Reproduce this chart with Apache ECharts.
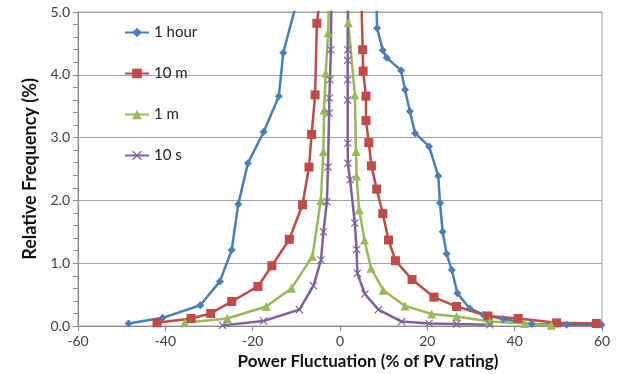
<!DOCTYPE html>
<html lang="en">
<head>
    <meta charset="UTF-8">
    <title>Power fluctuation</title>
    <script src="https://cdn.jsdelivr.net/npm/echarts@6/dist/echarts.min.js"></script>
    <style type="text/css">
        body { margin: 0; background: #fff; }
        #main { width: 625px; height: 374px; }
    </style>
</head>
<body>
<div id="main"></div>
<script>
    // [power fluctuation %, relative frequency %]
    var hour1 = [
        [-48.4, 0.04], [-40.6, 0.13], [-32.0, 0.33], [-27.5, 0.71], [-24.8, 1.21],
        [-23.3, 1.94], [-21.1, 2.59], [-17.5, 3.09], [-14.0, 3.66], [-13.0, 4.35],
        [-8.6, 5.5],
        [8.2, 5.5], [8.5, 4.74], [9.8, 4.39], [10.7, 4.27], [14.0, 4.07],
        [14.9, 3.76], [16.0, 3.42], [17.2, 3.07], [20.4, 2.86], [22.5, 2.39],
        [22.9, 1.96], [23.5, 1.50], [24.4, 1.15], [25.6, 0.89], [26.9, 0.52],
        [29.7, 0.28], [32.8, 0.18], [37.4, 0.11], [43.9, 0.03], [51.9, 0.02], [59.9, 0.02]
    ];
    var min10 = [
        [-41.9, 0.05], [-34.1, 0.12], [-29.6, 0.20], [-24.8, 0.39], [-18.8, 0.63],
        [-15.6, 0.96], [-11.6, 1.38], [-8.6, 1.93], [-7.1, 2.53], [-6.5, 3.05],
        [-5.7, 3.68], [-5.3, 4.82], [-4.05, 5.5],
        [4.76, 5.5], [5.2, 4.40], [5.3, 4.06], [5.95, 3.66], [5.95, 3.27],
        [6.6, 2.92], [7.2, 2.55], [8.4, 2.18], [9.8, 1.79], [11.1, 1.37],
        [12.7, 1.04], [16.5, 0.74], [21.5, 0.46], [26.7, 0.31], [33.9, 0.16],
        [40.8, 0.12], [49.6, 0.05], [58.7, 0.04]
    ];
    var min1 = [
        [-35.6, 0.05], [-25.8, 0.12], [-16.9, 0.31], [-11.1, 0.60], [-6.3, 1.11],
        [-4.4, 2.00], [-3.8, 2.78], [-3.66, 3.44], [-3.27, 4.03], [-2.7, 4.67],
        [-2.45, 5.5],
        [1.7, 5.5], [1.9, 4.83], [3.4, 3.68], [3.66, 2.78], [3.8, 2.39],
        [4.4, 1.85], [5.6, 1.37], [7.1, 0.92], [9.9, 0.57], [14.9, 0.32],
        [21.0, 0.19], [26.7, 0.15], [34.3, 0.07], [42.3, 0.04], [48.4, 0.01]
    ];
    var sec10 = [
        [-26.9, 0.01], [-17.5, 0.08], [-9.3, 0.26], [-6.1, 0.64], [-4.35, 1.05],
        [-3.8, 1.50], [-3.0, 1.98], [-2.75, 2.53], [-2.5, 3.39], [-2.45, 3.63],
        [-2.3, 3.92], [-2.1, 4.40], [-1.9, 5.5],
        [1.83, 5.5], [1.76, 4.40], [1.76, 4.23], [1.76, 3.92], [1.76, 3.60],
        [1.76, 2.91], [1.8, 2.59], [2.3, 2.33], [3.4, 1.64], [3.8, 1.22],
        [3.97, 0.84], [5.7, 0.51], [8.8, 0.26], [14.1, 0.07], [20.4, 0.04],
        [26.7, 0.03], [34.3, 0.02]
    ];
    var seriesNames = ['1 hour', '10 m', '1 m', '10 s'];
    var xTicks = [-60, -40, -20, 0, 20, 40, 60];

    var crossPath = 'path://M0,1L1,0L5,4L9,0L10,1L6,5L10,9L9,10L5,6L1,10L0,9L4,5Z';
    var colors = ['#4a7ebb', '#be4b48', '#98b954', '#7d60a0'];
    var symbols = ['diamond', 'rect', 'triangle', crossPath];
    var sizes = [8, 9, 9, 8];
    var datasets = [hour1, min10, min1, sec10];
    var font = 'Lato, "Liberation Sans", sans-serif';

    var series = seriesNames.map(function (name, i) {
        return {
            name: name,
            type: 'line',
            data: datasets[i],
            symbol: symbols[i],
            symbolSize: sizes[i],
            showAllSymbol: true,
            clip: true,
            lineStyle: { color: colors[i], width: 2.5 },
            itemStyle: { color: colors[i] }
        };
    });

    var option = {
        backgroundColor: '#fff',
        animation: false,
        textStyle: { fontFamily: font },
        grid: {
            left: 78, right: 23, top: 12, bottom: 48,
            outerBoundsMode: 'none',
            show: true, borderColor: '#a0a0a0', borderWidth: 1
        },
        legend: {
            orient: 'vertical',
            left: 119, top: 20,
            itemWidth: 24, itemHeight: 12,
            itemGap: 26,
            textStyle: { fontSize: 15, color: '#222', fontFamily: font },
            data: seriesNames
        },
        xAxis: {
            type: 'value',
            min: xTicks[0], max: xTicks[xTicks.length - 1], interval: 20,
            name: 'Power Fluctuation (% of PV rating)',
            nameLocation: 'middle', nameGap: 27,
            nameTextStyle: {
                fontSize: 17, fontWeight: 'bold', color: '#111', fontFamily: font,
                padding: [0, 0, 0, 56]
            },
            axisLine: { lineStyle: { color: '#888' } },
            axisTick: { show: true, length: 5, lineStyle: { color: '#888' } },
            axisLabel: { fontSize: 14, color: '#404040', margin: 8 },
            splitLine: { show: false }
        },
        yAxis: {
            type: 'value',
            min: 0, max: 5, interval: 1,
            name: 'Relative Frequency (%)',
            nameLocation: 'middle', nameGap: 39,
            nameTextStyle: { fontSize: 18, fontWeight: 'bold', color: '#111', fontFamily: font },
            axisLine: { show: true, onZero: false, lineStyle: { color: '#888' } },
            axisTick: { show: true, length: 5, lineStyle: { color: '#888' } },
            minorTick: { show: true, splitNumber: 5, length: 5, lineStyle: { color: '#888' } },
            axisLabel: {
                fontSize: 14, color: '#404040', margin: 8,
                formatter: function (v) { return v.toFixed(1); }
            },
            splitLine: { lineStyle: { color: '#a0a0a0' } }
        },
        series: series
    };

    var myChart = echarts.init(document.getElementById('main'));
    myChart.setOption(option);
</script>
</body>
</html>
